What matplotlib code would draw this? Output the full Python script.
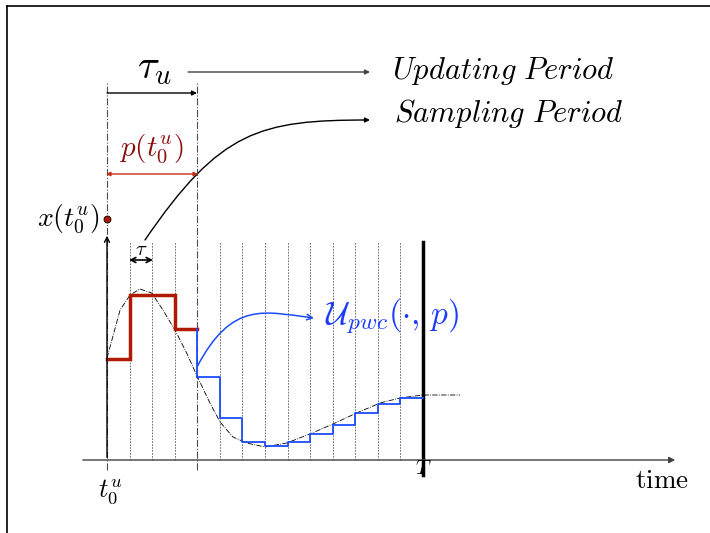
import numpy as np
import matplotlib.pyplot as plt
from matplotlib.patches import FancyArrowPatch
from matplotlib.path import Path
from matplotlib.lines import Line2D

plt.rcParams['mathtext.fontset'] = 'cm'

# sampling grid, in units of tau (0 = t0^u, 4 = end of update period, 14 = T)
grid_t = np.arange(0, 15)
t_update = 4
t_end = 14

# piecewise-constant control (value above time axis)
red_t = [0, 1, 2, 3, 4]
red_v = [1.01, 1.65, 1.65, 1.31, 1.31]
blue_t = [4, 5, 6, 7, 8, 9, 10, 11, 12, 13, 14]
blue_v = [0.83, 0.42, 0.18, 0.14, 0.18, 0.26, 0.35, 0.47, 0.56, 0.62, 0.62]

# continuous reference trajectory (dash-dot)
ref_t = [0, 0.58, 1.02, 1.46, 1.98, 2.48, 3.01, 3.53, 3.97, 4.56, 5.01, 5.58,
         6.19, 7.0, 7.96, 8.99, 10.01, 11.06, 12.1, 12.98, 14.0, 15.64]
ref_v = [1.02, 1.50, 1.65, 1.71, 1.67, 1.50, 1.30, 1.07, 0.85, 0.57, 0.38, 0.23,
         0.17, 0.13, 0.17, 0.26, 0.36, 0.47, 0.57, 0.62, 0.65, 0.65]

x0_value = 2.41  # x(t0^u)

# pixel <-> data mapping
X0, DX, Y0, DY = 107, 22.57, 460, 100.0


def P(x, y):
    return ((x - X0) / DX, (Y0 - y) / DY)


fig = plt.figure(figsize=(7.10, 5.33), dpi=100)
ax = fig.add_axes([0, 0, 1, 1])
ax.set_xlim(-X0 / DX, (710 - X0) / DX)
ax.set_ylim((Y0 - 533) / DY, Y0 / DY)
ax.axis('off')

# frame lines (top and left)
fig.add_artist(Line2D([7 / 710, 1], [1 - 6 / 533, 1 - 6 / 533], color='black', lw=1.2))
fig.add_artist(Line2D([7 / 710, 7 / 710], [0, 1 - 6 / 533], color='black', lw=1.2))

# sampling grid lines
for g in grid_t[1:-1]:
    if g == t_update:
        continue
    ax.plot([g, g], [0, P(0, 242)[1]], color='0.35', lw=0.6, ls=(0, (2, 1.5)))

# update period boundaries
for g in [0, t_update]:
    ax.plot([g, g], [P(0, 470)[1], P(0, 82)[1]], color='0.3', lw=0.8, ls='-.')

# horizon T
ax.plot([t_end, t_end], [P(0, 475)[1], P(0, 242)[1]], color='black', lw=2.5)

# time axis
ax.annotate('', xy=P(678, 460), xytext=P(80, 460),
            arrowprops=dict(arrowstyle='-|>', color='0.25', lw=1.0, mutation_scale=9))
# vertical axis
ax.annotate('', xy=P(107, 233), xytext=P(107, 460),
            arrowprops=dict(arrowstyle='->', color='black', lw=1.0, mutation_scale=9))

# reference trajectory
ax.plot(ref_t, ref_v, color='black', lw=0.6, ls='-.')

# control steps
ax.step(red_t, red_v, where='post', color='#b01a00', lw=2.5, solid_joinstyle='miter')
ax.plot([t_update, t_update], [red_v[-1], blue_v[0]], color='#1a4cff', lw=1.3)
ax.step(blue_t, blue_v, where='post', color='#1a4cff', lw=1.3)

# x(t0^u)
ax.plot([0], [x0_value], 'o', ms=5, mfc='#b01a00', mec='black', mew=0.6)
ax.text(*P(100, 219), r'$x(t_0^u)$', fontsize=20, ha='right', va='center')

# tau_u arrow
ax.annotate('', xy=P(197, 93), xytext=P(107, 93),
            arrowprops=dict(arrowstyle='-|>', color='black', lw=1.0, mutation_scale=7,
                            shrinkA=0, shrinkB=0))
ax.text(*P(155, 67), r'$\tau_u$', fontsize=29, ha='center', va='center')
ax.annotate('', xy=P(370, 72), xytext=P(188, 72),
            arrowprops=dict(arrowstyle='-|>', color='0.25', lw=1.0, mutation_scale=7,
                            shrinkA=0, shrinkB=0))
ax.text(*P(392, 71), r'$\mathit{Updating\ Period}$', fontsize=22, ha='left', va='center')

# p(t0^u) arrow
ax.annotate('', xy=P(198, 174), xytext=P(106, 174),
            arrowprops=dict(arrowstyle='<|-|>', color='#c0301a', lw=1.0, mutation_scale=6,
                            shrinkA=0, shrinkB=0))
ax.text(*P(151, 149), r'$p(t_0^u)$', fontsize=21, color='#8a0c0c', ha='center', va='center')

# sampling period curve
sp = Path([P(145, 240), P(220, 130), P(260, 120), P(370, 120)],
          [Path.MOVETO, Path.CURVE4, Path.CURVE4, Path.CURVE4])
ax.add_patch(FancyArrowPatch(path=sp, arrowstyle='-|>', mutation_scale=7,
                             color='black', lw=1.0))
ax.text(*P(394, 113), r'$\mathit{Sampling\ Period}$', fontsize=22, ha='left', va='center')

# tau small arrow
ax.annotate('', xy=P(153, 260), xytext=P(129, 260),
            arrowprops=dict(arrowstyle='<->', color='black', lw=1.2, mutation_scale=9,
                            shrinkA=0, shrinkB=0))
ax.text(*P(141, 249), r'$\tau$', fontsize=15, ha='center', va='center')

# U_pwc arrow
up = Path([P(197, 367), P(232, 300), P(265, 312), P(314, 318)],
          [Path.MOVETO, Path.CURVE4, Path.CURVE4, Path.CURVE4])
ax.add_patch(FancyArrowPatch(path=up, arrowstyle='->', mutation_scale=10,
                             color='#1a4cff', lw=1.1))
ax.text(*P(325, 316), r'$\mathcal{U}_{pwc}(\cdot,\,p)$', fontsize=24, color='#1a3cff',
        ha='left', va='center')

# axis labels
ax.text(*P(110, 492), r'$t_0^u$', fontsize=19, ha='center', va='center')
ax.text(*P(423, 468), r'$T$', fontsize=15, ha='center', va='center')
ax.text(*P(662, 481), r'$\mathrm{time}$', fontsize=19.5, ha='center', va='center')

fig.savefig('out.png', dpi=100)
